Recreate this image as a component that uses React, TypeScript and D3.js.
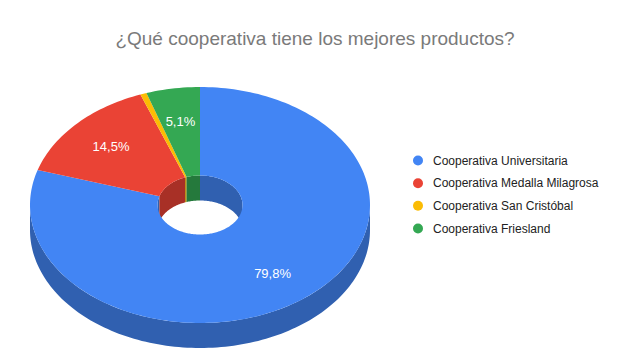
import React from 'react';
import * as d3 from 'd3';

const categories = [
  'Cooperativa Universitaria',
  'Cooperativa Medalla Milagrosa',
  'Cooperativa San Cristóbal',
  'Cooperativa Friesland',
];
const values = [79.8, 14.5, 0.6, 5.1];
const colors = ['#4285f4', '#ea4335', '#fbbc04', '#34a853'];

const title = '¿Qué cooperativa tiene los mejores productos?';

const width = 640;
const height = 360;
const hole = 0.25;
const depth = 25;
const labelRadius = 0.72;

const App: React.FC = () => {
  // unit circle -> projected ellipse
  const x = d3.scaleLinear().domain([-1, 1]).range([30, 370]);
  const y = d3.scaleLinear().domain([-1, 1]).range([87, 323]);

  const pt = (a: number, r: number, dz = 0): [number, number] =>
    [x(r * Math.sin(a)), y(-r * Math.cos(a)) + dz];

  const arcPts = (a0: number, a1: number, r: number, dz = 0) => {
    const n = Math.max(2, Math.ceil(Math.abs(a1 - a0) * 40));
    return d3.range(n + 1).map(i => pt(a0 + (a1 - a0) * i / n, r, dz));
  };

  const line = d3.line<[number, number]>();

  const arcs = d3.pie<number>().sort(null)(values);
  const total = d3.sum(values);
  const fmt = (v: number) => d3.format('.1f')(v).replace('.', ',') + '%';
  const side = (c: string) => {
    const k = 0.72;
    const rgb = d3.rgb(c);
    return d3.rgb(rgb.r * k, rgb.g * k, rgb.b * k).formatHex();
  };

  const clip = (a0: number, a1: number, lo: number, hi: number) => {
    const s = Math.max(a0, lo);
    const e = Math.min(a1, hi);
    return s < e ? [s, e] : null;
  };

  // outer walls (front half)
  const outerWalls: { d: string; fill: string }[] = [];
  // inner walls (back half of the hole)
  const innerWalls: { d: string; fill: string }[] = [];

  arcs.forEach((a, i) => {
    const o = clip(a.startAngle, a.endAngle, Math.PI / 2, 3 * Math.PI / 2);
    if (o) {
      const p = [...arcPts(o[0], o[1], 1), ...arcPts(o[1], o[0], 1, depth)];
      outerWalls.push({ d: line(p) + 'Z', fill: side(colors[i]) });
    }
    [[-0.001, Math.PI / 2], [3 * Math.PI / 2, 2 * Math.PI + 0.001]].forEach(([lo, hi]) => {
      const c = clip(a.startAngle, a.endAngle, lo, hi);
      if (c) {
        const p = [...arcPts(c[0], c[1], hole), ...arcPts(c[1], c[0], hole, depth)];
        innerWalls.push({ d: line(p) + 'Z', fill: side(colors[i]) });
      }
    });
  });

  const tops = arcs.map((a, i) => {
    const p = [...arcPts(a.startAngle, a.endAngle, 1), ...arcPts(a.endAngle, a.startAngle, hole)];
    return { d: line(p) + 'Z', fill: colors[i] };
  });

  const labels = arcs
    .map((a, i) => {
      const pct = (values[i] / total) * 100;
      const mid = (a.startAngle + a.endAngle) / 2;
      const [lx, ly] = pt(mid, labelRadius);
      return { lx, ly, text: fmt(pct), show: pct >= 2 };
    })
    .filter(l => l.show);

  const legendX = 418;
  const legendY = d3.scalePoint<string>().domain(categories).range([160.5, 228.5]);

  return (
    <svg
      width={width}
      height={height}
      style={{ position: 'absolute', left: 0, top: 0, background: '#fff' }}
      fontFamily="'Liberation Sans', Arial, sans-serif"
    >
      <text x={315} y={45} textAnchor="middle" fontSize={19} fill="#7a7a7a">
        {title}
      </text>

      <g>
        {outerWalls.map((w, i) => <path key={'o' + i} d={w.d} fill={w.fill} />)}
        {innerWalls.map((w, i) => <path key={'i' + i} d={w.d} fill={w.fill} />)}
        {tops.map((t, i) => <path key={'t' + i} d={t.d} fill={t.fill} />)}
      </g>

      <g>
        {labels.map((l, i) => (
          <text key={i} x={l.lx} y={l.ly} dy="0.35em" textAnchor="middle" fontSize={13} fill="#fff">
            {l.text}
          </text>
        ))}
      </g>

      <g>
        {categories.map((c, i) => (
          <g key={c} transform={`translate(${legendX},${legendY(c)})`}>
            <circle r={5} fill={colors[i]} />
            <text x={15} dy="0.35em" fontSize={12} fill="#222">{c}</text>
          </g>
        ))}
      </g>
    </svg>
  );
};

export default App;
